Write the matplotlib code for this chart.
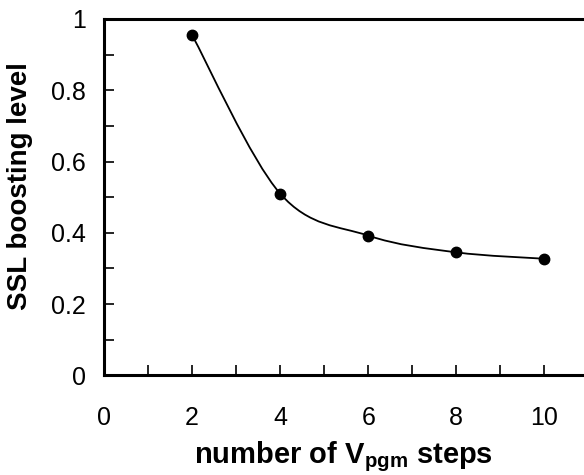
import numpy as np
import matplotlib.pyplot as plt
from matplotlib.path import Path
from matplotlib.patches import PathPatch

plt.rcParams['font.family'] = ['Liberation Sans', 'DejaVu Sans']
plt.rcParams['mathtext.fontset'] = 'custom'
plt.rcParams['mathtext.bf'] = 'Liberation Sans:bold'
plt.rcParams['mathtext.rm'] = 'Liberation Sans'

steps = [2, 4, 6, 8, 10]
boost = [0.955, 0.51, 0.392, 0.345, 0.327]


def smooth_path(xs, ys, t=0.5):
    # Catmull-Rom style bezier through the points (like a spreadsheet smoothed line)
    pts = np.column_stack([xs, ys])
    verts = [pts[0]]
    codes = [Path.MOVETO]
    n = len(pts)
    for i in range(n - 1):
        p0 = pts[i - 1] if i > 0 else pts[i]
        p1 = pts[i]
        p2 = pts[i + 1]
        p3 = pts[i + 2] if i + 2 < n else pts[i + 1]
        c1 = p1 + (p2 - p0) * t / 3
        c2 = p2 - (p3 - p1) * t / 3
        verts += [c1, c2, p2]
        codes += [Path.CURVE4] * 3
    return Path(verts, codes)


fig = plt.figure(figsize=(5.84, 4.75), dpi=100)
ax = fig.add_axes([0.178, 0.21, 0.822, 0.75])

ax.add_patch(PathPatch(smooth_path(steps, boost), facecolor='none', edgecolor='black', lw=1.3))
ax.plot(steps, boost, 'o', color='black', markersize=7.5)

ax.set_xlim(0, 10.9)
ax.set_ylim(0, 1)
ax.set_xticks([0, 2, 4, 6, 8, 10])
ax.set_xticks(np.arange(0, 11, 1), minor=True)
ax.set_yticks([0, 0.2, 0.4, 0.6, 0.8, 1])
ax.set_yticklabels(['0', '0.2', '0.4', '0.6', '0.8', '1'])
ax.set_yticks(np.arange(0, 1.01, 0.1), minor=True)
ax.tick_params(which='both', direction='in', length=7, width=1.2, labelsize=18)
ax.tick_params(axis='x', pad=22)
ax.tick_params(axis='y', pad=13)
for s in ['left', 'bottom', 'top']:
    ax.spines[s].set_linewidth(2.2)
ax.spines['right'].set_visible(False)

ax.set_xlabel(r'number of V$_{\mathbf{pgm}}$ steps', fontsize=21, fontweight='bold', labelpad=7)
ax.set_ylabel('SSL boosting level', fontsize=20, fontweight='bold')
ax.yaxis.set_label_coords(-0.148, 0.53)

fig.savefig('out.png', dpi=100)
